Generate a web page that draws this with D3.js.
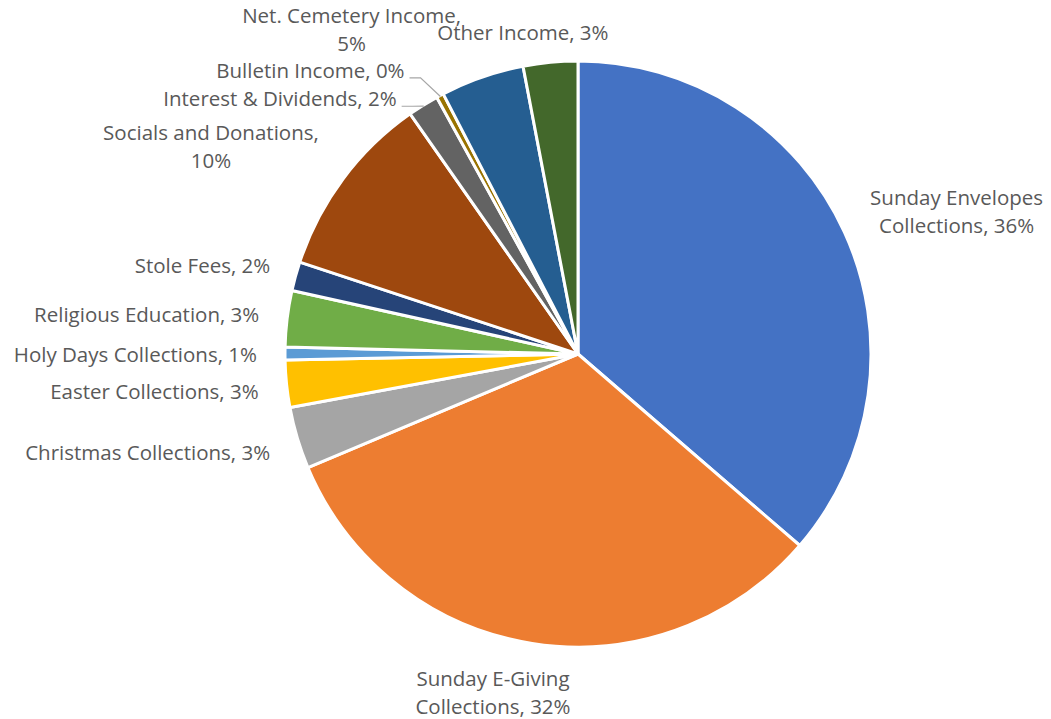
<!DOCTYPE html>
<html>
    <body style="margin:0;background:#fff">
        <svg></svg>
        <script src="https://d3js.org/d3.v7.min.js"></script>
        <script>
            const width = 1051;
            const height = 719;

            // data (share of income, percent)
            const categories = [
                "Sunday Envelopes Collections", "Sunday E-Giving Collections",
                "Christmas Collections", "Easter Collections", "Holy Days Collections",
                "Religious Education", "Stole Fees", "Socials and Donations",
                "Interest & Dividends", "Bulletin Income", "Net. Cemetery Income", "Other Income"
            ];
            const values = [36.3, 32.3, 3.4, 2.6, 0.7, 3.1, 1.6, 10.2, 1.7, 0.4, 4.6, 3.0];
            const colors = ["#4472C4", "#ED7D31", "#A5A5A5", "#FFC000", "#5B9BD5", "#70AD47",
                            "#264478", "#9E480E", "#636363", "#997300", "#255E91", "#43682B"];
            // how each label is broken into lines
            const labelLines = [
                ["Sunday Envelopes", "Collections, {p}"],
                ["Sunday E-Giving", "Collections, {p}"],
                ["Christmas Collections, {p}"],
                ["Easter Collections, {p}"],
                ["Holy Days Collections, {p}"],
                ["Religious Education, {p}"],
                ["Stole Fees, {p}"],
                ["Socials and Donations,", "{p}"],
                ["Interest & Dividends, {p}"],
                ["Bulletin Income, {p}"],
                ["Net. Cemetery Income,", "{p}"],
                ["Other Income, {p}"]
            ];
            // label nudges away from the default outside spot [dx, dy]
            const nudges = [
                [94, -11], [-36, 31], [-8, 10], [-8, 7], [-8, 2], [-8, 0],
                [-6, -4], [-116, -19], [-16, 12], [-26, -6], [-124, -27], [60, -8]
            ];
            const leaderIdx = [8, 9];

            const cx = 578, cy = 354, r = 293;

            const svg = d3.select('svg')
                .attr('width', width).attr('height', height)
                .style('font-family', '"Open Sans", sans-serif');

            const total = d3.sum(values);
            const pie = d3.pie().sort(null).value(d => d);
            const arcs = pie(values);
            const arc = d3.arc().innerRadius(0).outerRadius(r);

            const g = svg.append('g').attr('transform', `translate(${cx},${cy})`);

            g.selectAll('path.slice')
                .data(arcs)
                .enter().append('path')
                .attr('class', 'slice')
                .attr('d', arc)
                .style('fill', (d, i) => colors[i])
                .style('stroke', '#fff')
                .style('stroke-width', 3)
                .style('stroke-linejoin', 'round');

            const fmt = v => Math.round(v / total * 100) + '%';

            g.selectAll('text.lbl')
                .data(arcs)
                .enter().append('text')
                .attr('class', 'lbl')
                .style('font-size', '20.5px')
                .style('fill', '#595959')
                .each(function (d, i) {
                    const mid = (d.startAngle + d.endAngle) / 2;
                    const rr = r + 20;
                    const x = Math.sin(mid) * rr + nudges[i][0];
                    const y = -Math.cos(mid) * rr + nudges[i][1];
                    const lines = labelLines[i];
                    const multi = lines.length > 1;
                    const anchor = multi ? 'middle' : (Math.sin(mid) < 0 ? 'end' : 'start');
                    const t = d3.select(this).attr('text-anchor', anchor);
                    lines.forEach((s, k) => {
                        t.append('tspan')
                            .attr('x', x)
                            .attr('y', y + (k - (lines.length - 1) / 2) * 28 + 6)
                            .text(s.replace('{p}', fmt(values[i])));
                    });
                    d.lx = x; d.ly = y + 6;
                });

            // leader lines for the two thin slices near the top
            leaderIdx.forEach(i => {
                const d = arcs[i];
                const mid = (d.startAngle + d.endAngle) / 2;
                const px = Math.sin(mid) * (r - 1), py = -Math.cos(mid) * (r - 1);
                const sx = d.lx + 5, sy = d.ly;
                g.append('path')
                    .attr('d', `M${sx},${sy}H${sx + 11}L${px},${py}`)
                    .style('fill', 'none')
                    .style('stroke', '#A6A6A6')
                    .style('stroke-width', 1.2);
            });
        </script>
    </body>
</html>
